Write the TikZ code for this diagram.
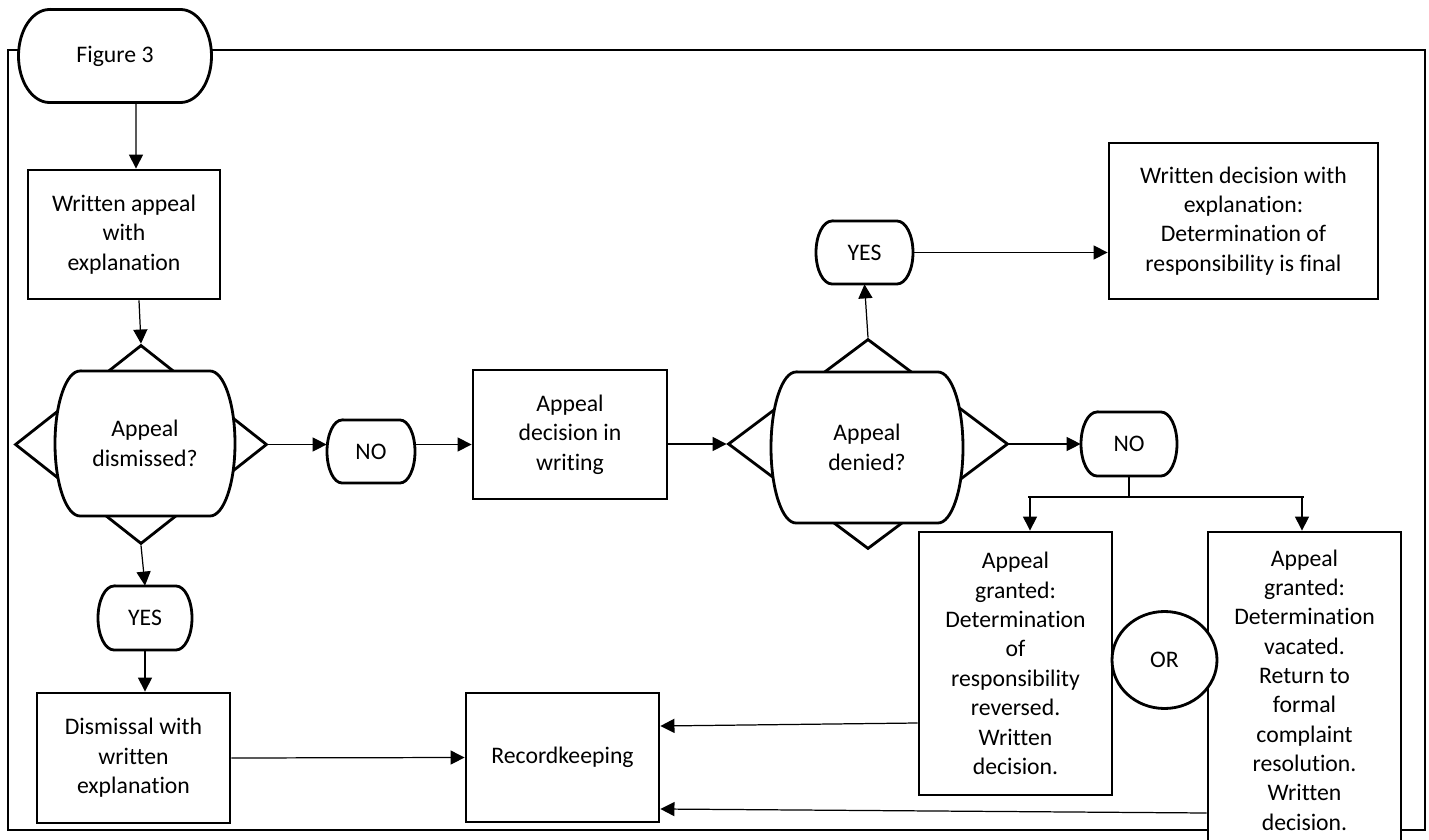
\documentclass[tikz,border=0pt]{standalone}
\usepackage{fontspec}
\setmainfont{Carlito}[Ligatures=NoCommon]
\usetikzlibrary{shapes.geometric, arrows.meta}
\tikzset{
  box/.style={shape=rectangle, draw=black, ultra thick, fill=white, align=center, inner sep=0pt},
  termtext/.style={shape=rectangle, align=center, inner sep=0pt},
  choice/.style={shape=diamond, draw=black, ultra thick, inner sep=0pt},
  arr/.style={-{Triangle[length=8pt,width=8pt]}, line width=0.7pt, draw=black},
}
% name, x, y, width, height, end radius, text
\newcommand{\termnode}[7]{%
  \filldraw[draw=black, fill=white, ultra thick]
    (#2-#4/2+#6, #3-#5/2) -- (#2+#4/2-#6, #3-#5/2)
    arc[start angle=90, end angle=-90, x radius=#6*0.2mm, y radius=#5*0.1mm]
    -- (#2-#4/2+#6, #3+#5/2)
    arc[start angle=270, end angle=90, x radius=#6*0.2mm, y radius=#5*0.1mm] -- cycle;
  \node[termtext, minimum width=#4*0.2mm, minimum height=#5*0.2mm] (#1) at (#2,#3) {#7};%
}
\begin{document}
\begin{tikzpicture}[x=0.2mm, y=-0.2mm, font=\fontsize{13.5}{16.7}\selectfont]
\useasboundingbox (0,0) rectangle (1429,840);
\draw[very thick] (8,50) rectangle (1425,830);
\termnode{fig}{115}{56}{193}{93}{31}{Figure 3}
\node[box, minimum width=38.4mm, minimum height=25.8mm] (appeal) at (124,234.5) {Written appeal\\with\\explanation};
\node[choice, minimum width=50.4mm, minimum height=39.8mm] (d1) at (141,444.5) {};
\termnode{q1}{145}{443.5}{180}{145}{25}{Appeal\\dismissed?}
\termnode{no1}{371}{451.5}{88}{63}{15}{NO}
\termnode{yes1}{145}{618}{94}{64}{16}{YES}
\node[box, minimum width=38.6mm, minimum height=26mm] (dismissal) at (133.5,758) {Dismissal with\\written\\explanation};
\node[box, minimum width=38.6mm, minimum height=25.8mm] (record) at (562.5,757.5) {Recordkeeping};
\node[box, minimum width=38.8mm, minimum height=25.8mm] (decision) at (570,434.5) {Appeal\\decision in\\writing};
\node[choice, minimum width=56mm, minimum height=42mm] (d2) at (868,444) {};
\termnode{q2}{867}{447.5}{192}{151}{25}{Appeal\\denied?}
\termnode{yes2}{864.5}{252.5}{97}{63}{16}{YES}
\node[box, minimum width=53.8mm, minimum height=31.2mm] (final) at (1243.5,221) {Written decision with\\explanation:\\Determination of\\responsibility is final};
\termnode{no2}{1129}{444}{96}{64}{16}{NO}
\node[box, minimum width=38.6mm, minimum height=52.6mm] (reversed) at (1015.5,663.5) {Appeal\\granted:\\Determination\\of\\responsibility\\reversed.\\Written\\decision.};
\node[box, minimum width=38.6mm, minimum height=63.2mm] (vacated) at (1304.5,690) {Appeal\\granted:\\Determination\\vacated.\\Return to\\formal\\complaint\\resolution.\\Written\\decision.};
\node[shape=ellipse, draw=black, ultra thick, fill=white, minimum width=21mm, minimum height=19.4mm, inner sep=0pt] (or) at (1164.5,660) {OR};
\coordinate (forkL) at (1030,497);
\coordinate (forkR) at (1302,497);
\draw[arr] ([xshift=4.2mm]fig.south) -- ([xshift=2.4mm]appeal.north);
\draw[arr] ([xshift=3mm]appeal.south) -- (d1.north);
\draw[arr] (d1.east) -- (d1.east -| no1.west);
\draw[arr] (no1.east |- d1.east) -- (d1.east -| decision.west);
\draw[arr] (d2.west -| decision.east) -- (d2.west);
\draw[arr] (d2.north) -- (yes2.south);
\draw[arr] (yes2.east) -- (yes2.east -| final.west);
\draw[arr] (d2.east) -- (no2.west);
\draw[line width=0.7pt] (no2.south) -- (no2.south |- forkL);
\draw[line width=0.7pt] ([xshift=-0.4mm]forkL) -- ([xshift=0.4mm]forkR);
\draw[arr] (forkL) -- (forkL |- reversed.north);
\draw[arr] (forkR) -- (forkR |- vacated.north);
\draw[arr] ([yshift=-11.9mm]reversed.west) -- ([yshift=6.3mm]record.east);
\draw[arr] ([yshift=-24.6mm]vacated.west) -- ([yshift=-10.3mm]record.east);
\draw[arr] (dismissal.east) -- (record.west);
\draw[arr] (d1.south) -- (yes1.north);
\draw[arr] (yes1.south) -- (yes1.south |- dismissal.north);
\end{tikzpicture}
\end{document}
